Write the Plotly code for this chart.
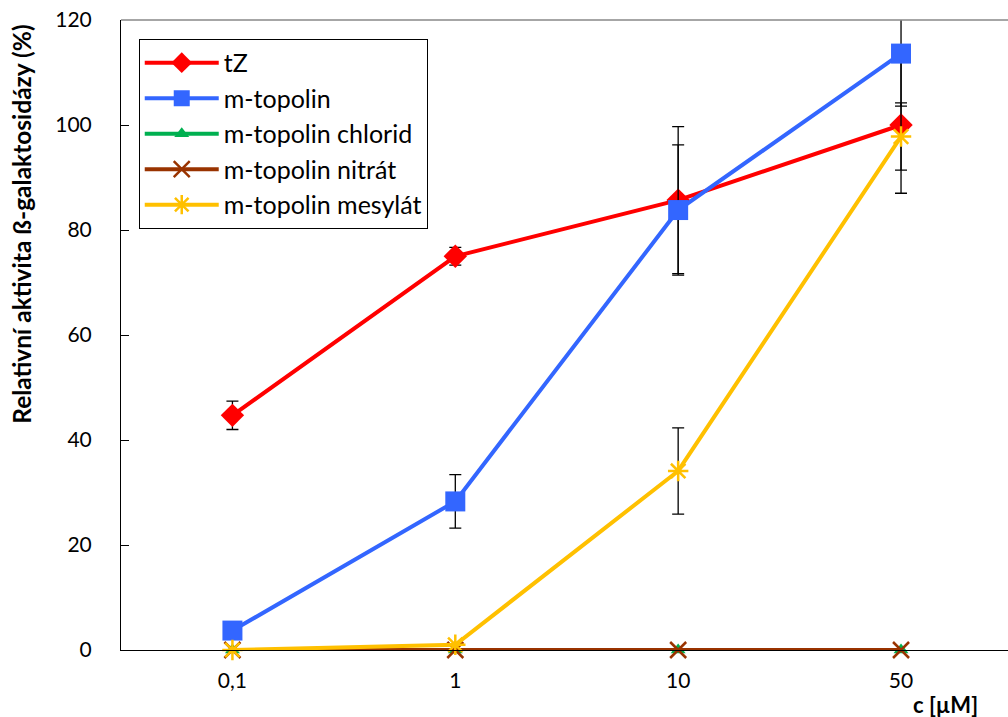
import plotly.graph_objects as go

# Concentrations (categorical x axis)
conc = ["0,1", "1", "10", "50"]

# Relative beta-galactosidase activity (%) and standard deviations
tz = [44.7, 75.0, 85.7, 100.0]
tz_err = [2.7, 1.7, 14.0, 13.0]

mtop = [3.7, 28.3, 83.8, 113.6]
mtop_err = [0.0, 5.1, 12.4, 10.0]

chlorid = [0.0, 0.0, 0.0, 0.0]
nitrat = [0.0, 0.0, 0.0, 0.0]

mesylat = [0.0, 1.0, 34.1, 97.8]
mesylat_err = [0.0, 0.0, 8.2, 6.4]

FONT = "Lato"

series = [
    dict(name="tZ", y=tz, err=tz_err, color="#FF0000", symbol="diamond", size=18, clip=False),
    dict(name="m-topolin", y=mtop, err=mtop_err, color="#3366FF", symbol="square", size=20, clip=True),
    dict(name="m-topolin chlorid", y=chlorid, err=None, color="#00B050", symbol="triangle-up", size=13, clip=False),
    dict(name="m-topolin nitrát", y=nitrat, err=None, color="#993300", symbol="x-thin", size=16, clip=False),
    dict(name="m-topolin mesylát", y=mesylat, err=mesylat_err, color="#FFC000", symbol="asterisk", size=17, clip=False),
]

fig = go.Figure()
for i, s in enumerate(series):
    err = None
    if s["err"] is not None:
        err = dict(type="data", array=s["err"], visible=True,
                   color="black", thickness=1.3, width=6)
    marker = dict(symbol=s["symbol"], size=s["size"], color=s["color"])
    if s["symbol"] in ("x-thin", "asterisk"):
        marker["line"] = dict(color=s["color"], width=2.5)
    fig.add_trace(go.Scatter(
        x=conc, y=s["y"], name=s["name"], mode="lines+markers",
        line=dict(color=s["color"], width=4),
        marker=marker, error_y=err, cliponaxis=s["clip"],
        legendgroup=f"g{i}",
    ))

fig.update_layout(
    width=1008, height=717,
    margin=dict(l=121, r=0, t=20, b=67),
    paper_bgcolor="white", plot_bgcolor="white",
    font=dict(family=FONT, size=20, color="black"),
    showlegend=True,
    legend=dict(
        x=0.02, y=0.97, xanchor="left", yanchor="top",
        bordercolor="black", borderwidth=1, bgcolor="white",
        font=dict(family=FONT, size=25, color="black"),
        tracegroupgap=8, traceorder="normal", itemwidth=74,
    ),
    xaxis=dict(
        type="category", range=[-0.5, 3.48],
        showline=True, linecolor="black", linewidth=1,
        ticks="", showgrid=False, zeroline=False,
        tickfont=dict(family=FONT, size=21, color="black"),
        ticklabelstandoff=12,
    ),
    yaxis=dict(
        range=[0, 120], dtick=20,
        showline=True, linecolor="black", linewidth=1,
        ticks="inside", ticklen=8, tickcolor="black",
        showgrid=False, zeroline=False,
        tickfont=dict(family=FONT, size=21, color="black"),
        ticklabelstandoff=24,
    ),
    shapes=[dict(type="line", xref="paper", yref="paper", x0=0, x1=1, y0=1, y1=1,
                 line=dict(color="#888888", width=1.5))],
    annotations=[
        dict(text="<b>Relativní aktivita ß-galaktosidázy (%)</b>", textangle=-90,
             xref="paper", yref="paper", x=-0.1116, y=0.675, xanchor="center", yanchor="middle",
             showarrow=False, font=dict(family=FONT, size=24.5, color="black")),
        dict(text="<b>c [µM]</b>", xref="paper", yref="paper", x=0.93, y=-0.086,
             xanchor="center", yanchor="middle", showarrow=False,
             font=dict(family=FONT, size=22, color="black")),
    ],
)

fig.write_html("out.html")
